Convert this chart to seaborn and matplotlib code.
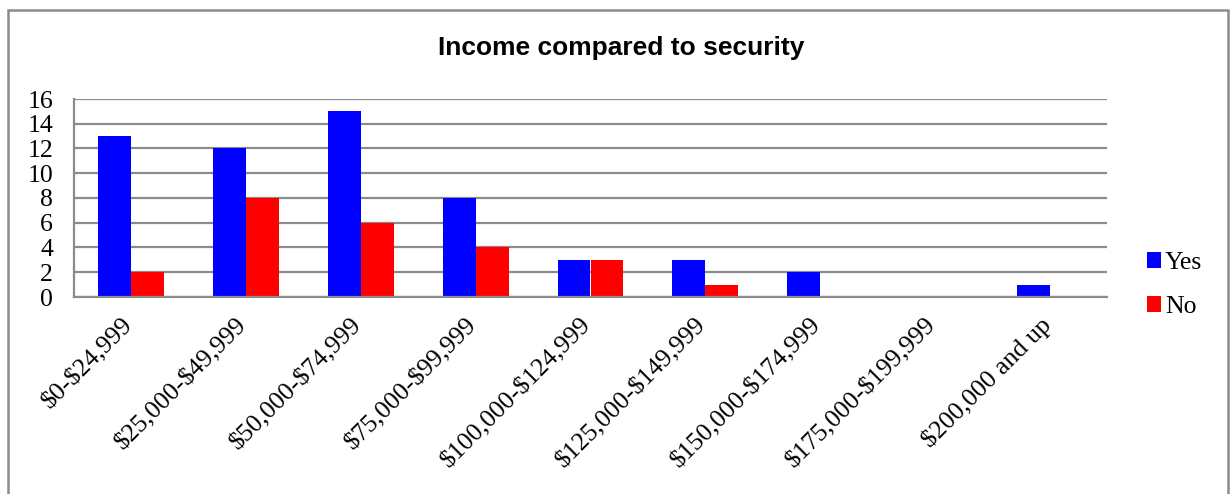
import matplotlib
matplotlib.use("Agg")
import matplotlib.pyplot as plt
from matplotlib.patches import Rectangle
from matplotlib.transforms import ScaledTranslation
import seaborn as sns
import pandas as pd

# Income brackets and answer counts
categories = ["$0-$24,999", "$25,000-$49,999", "$50,000-$74,999", "$75,000-$99,999",
              "$100,000-$124,999", "$125,000-$149,999", "$150,000-$174,999",
              "$175,000-$199,999", "$200,000 and up"]
yes_counts = [13, 12, 15, 8, 3, 3, 2, 0, 1]
no_counts = [2, 8, 6, 4, 3, 1, 0, 0, 0]
series_names = ["Yes", "No"]
series_colors = ["#0000FF", "#FF0000"]
y_ticks = [0, 2, 4, 6, 8, 10, 12, 14, 16]

df = pd.DataFrame({
    "Income": categories * 2,
    "Count": yes_counts + no_counts,
    "Answer": [series_names[0]] * len(categories) + [series_names[1]] * len(categories),
})

sns.set_theme(style="white")
plt.rcParams["font.family"] = ["Liberation Serif", "DejaVu Serif"]
plt.rcParams["text.color"] = "black"
plt.rcParams["xtick.color"] = "black"
plt.rcParams["ytick.color"] = "black"

fig = plt.figure(figsize=(12.31, 4.94), dpi=100)
ax = fig.add_axes([74 / 1231, 1 - 297 / 494, (1107 - 74) / 1231, (297 - 99) / 494])

sns.barplot(data=df, x="Income", y="Count", hue="Answer", order=categories,
            hue_order=series_names, palette=series_colors, width=0.575,
            linewidth=0, saturation=1, ax=ax)

grid_color = "#8C8C8C"
label_size = 18.5
ax.set_ylim(0, 16)
ax.set_xlim(-0.5, len(categories) - 0.5)
ax.set_yticks(y_ticks)
ax.set_yticklabels([str(v) for v in y_ticks], fontsize=label_size)
ax.yaxis.grid(True, color=grid_color, linewidth=1.6)
ax.set_axisbelow(True)
for side in ["top", "right"]:
    ax.spines[side].set_visible(False)
for side in ["left", "bottom"]:
    ax.spines[side].set_color(grid_color)
    ax.spines[side].set_linewidth(1.6)
ax.tick_params(axis="both", length=0)
ax.tick_params(axis="y", pad=15)
ax.tick_params(axis="x", pad=12)
ax.set_xlabel("")
ax.set_ylabel("")
ax.set_xticks(range(len(categories)))
ax.set_xticklabels([c.replace("$", r"\$") for c in categories], rotation=45, ha="right",
                   va="top", rotation_mode="anchor", fontsize=label_size)
shift = ScaledTranslation(-10 / 100, 0, fig.dpi_scale_trans)
for lbl in ax.get_xticklabels():
    lbl.set_transform(lbl.get_transform() + shift)

# Legend on the right
handles, labels = ax.get_legend_handles_labels()
ax.legend(handles, labels, loc="center left", bbox_to_anchor=(1147 / 1231, 1 - 285 / 494),
          bbox_transform=fig.transFigure, frameon=False, fontsize=label_size,
          handlelength=0.55, handleheight=0.55, handletextpad=0.15, labelspacing=0.85,
          borderaxespad=0, borderpad=0)

fig.text(621 / 1231, 1 - 48 / 494, "Income compared to security", ha="center", va="center",
         fontsize=19, fontweight="bold", color="black",
         family=["Liberation Sans", "DejaVu Sans"])

# Chart area border
fig.patches.append(Rectangle((8 / 1231, -0.2), 1220 / 1231, 1.2 - 10 / 494,
                             transform=fig.transFigure, fill=False,
                             edgecolor=grid_color, linewidth=1.8))

fig.savefig("out.png", dpi=100)
